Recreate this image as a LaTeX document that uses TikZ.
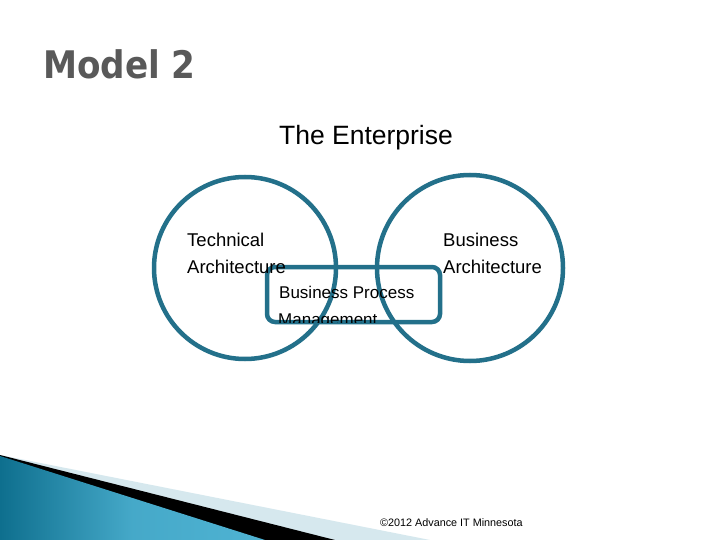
\documentclass[tikz,border=0pt]{standalone}
\usepackage{fontspec}
\setmainfont{Liberation Sans}
\newfontfamily\titlefont{DejaVu Sans Condensed}
\begin{document}
\begin{tikzpicture}[x=1pt,y=-1pt,
  ring/.style={line width=4.5pt},
  lbl/.style={anchor=base west, font=\fontsize{18.5}{20}\selectfont, inner sep=0pt}]
\definecolor{ringc}{HTML}{23708A}
\definecolor{lightband}{HTML}{D6E8EE}
\definecolor{tealA}{HTML}{0E6F8E}
\definecolor{tealB}{HTML}{4FB3D3}
\useasboundingbox[fill=white] (0,0) rectangle (720,540);
% bottom decoration
\fill[lightband] (0,455) -- (430,540) -- (0,540) -- cycle;
\fill[black] (0,455) -- (335,540) -- (0,540) -- cycle;
\shade[left color=tealA, right color=tealB, middle color=tealB!85!tealA, shading angle=90] (0,456) -- (265,540) -- (0,540) -- cycle;
% title
\node[anchor=base west, inner sep=0pt, text=black!65, font=\titlefont\bfseries\fontsize{38}{40}\selectfont] (title) at (43,79) {Model 2};
\node[anchor=base, inner sep=0pt, font=\fontsize{26.5}{28}\selectfont] (ent) at (366,145) {The Enterprise};
% shapes
\draw[ring, draw=ringc] (245,268) circle (91);
\draw[ring, draw=ringc] (470,268) circle (93);
\draw[ring, draw=ringc, rounded corners=8pt] (267,267) rectangle (440,322);
\node[lbl] (tech) at (187,247) {Technical};
\node[lbl] (tech2) at (187,273) {Architecture};
\node[lbl] (bus) at (443,247) {Business};
\node[lbl] (bus2) at (443,273) {Architecture};
\begin{scope}
\clip (0,0) rectangle (720,322);
\node[lbl, font=\fontsize{17}{18}\selectfont] (bpm) at (279,298) {Business Process};
\node[lbl, font=\fontsize{17}{18}\selectfont] (bpm2) at (278,325) {Management};
\end{scope}
\node[anchor=base west, inner sep=0pt, font=\fontsize{10.8}{12}\selectfont] (copy) at (380,526) {©2012 Advance IT Minnesota};
\end{tikzpicture}
\end{document}
